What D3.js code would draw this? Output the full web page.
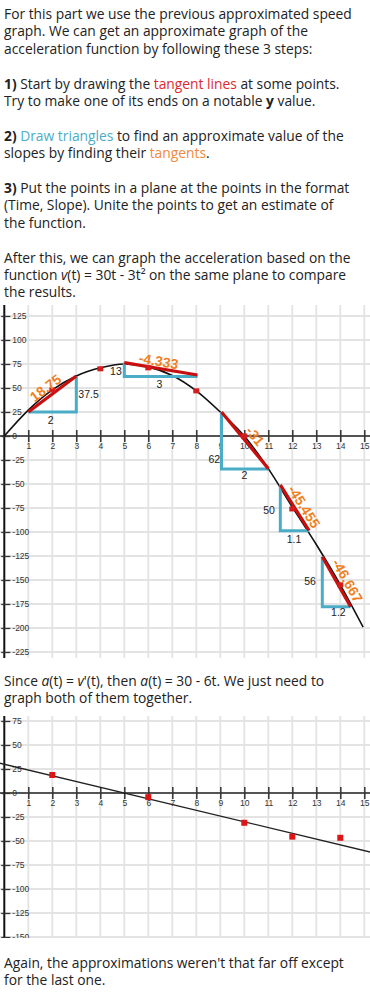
<!DOCTYPE html>
<html><head><meta charset="utf-8">
<script src="https://cdn.jsdelivr.net/npm/d3@7"></script>
<style>body{margin:0;background:#fff;} svg{display:block;}</style>
</head><body>
<svg id="c" width="370" height="1000"></svg>
<script>
// ---------- DATA ----------
const xTicks = [1,2,3,4,5,6,7,8,9,10,11,12,13,14,15];
const xTickLabels = ["1","2","3","4","5","6","7","8","9","10","11","12","13","14","15"];
const y1Ticks = [125,100,75,50,25,0,-25,-50,-75,-100,-125,-150,-175,-200,-225];
const y1TickLabels = ["125","100","75","50","25","0","-25","-50","-75","-100","-125","-150","-175","-200","-225"];
const y2Ticks = [75,50,25,0,-25,-50,-75,-100,-125,-150];
const y2TickLabels = ["75","50","25","0","-25","-50","-75","-100","-125","-150"];

// approximated speed curve
const speedT = [0, 1, 2, 3, 4, 5, 6, 7, 8, 9, 10, 11, 12, 13, 14, 14.95];
const speedV = [0, 27, 48, 62.5, 71, 75, 72, 63, 47, 25, 0, -34, -74, -113, -155, -199];
const speedMarkT = [2, 4, 6, 8, 10, 12, 14];
const speedMarkV = [48, 70, 71, 47, 0, -76, -155];

// tangent lines (red)
const tanStartT = [1, 5, 9.05, 11.5, 13.25];
const tanStartV = [25, 76.5, 25, -51, -125.7];
const tanEndT = [3, 8.05, 11, 12.7, 14.43];
const tanEndV = [62.5, 63.5, -34, -98.6, -177.8];

// triangles (blue): A -> corner -> B
const triAT = [1, 5, 9.05, 11.5, 13.25];
const triAV = [25, 76.5, 25, -51, -125.7];
const triCT = [3, 5, 9.05, 11.5, 13.25];
const triCV = [25, 62, -34.4, -98.6, -177.8];
const triBT = [3, 8.05, 11, 12.7, 14.43];
const triBV = [62.5, 62, -34.4, -98.6, -177.8];

// slope labels
const slopeText = ["18.75", "-4.333", "-31", "-45.455", "-46.667"];
const slopeLabT = [1.72, 6.43, 10.45, 12.49, 14.3];
const slopeLabV = [50, 78, 0, -73.6, -150.7];

// triangle side labels
const sideText = ["2", "37.5", "13", "3", "62", "2", "50", "1.1", "56", "1.2"];
const sideT = [1.93, 3.51, 4.65, 6.46, 8.75, 10, 11.03, 12.07, 12.74, 13.92];
const sideV = [16, 43.5, 67, 54, -24.3, -40.6, -77, -107.6, -151.8, -184];

// second chart
const accelPointT = [2, 6, 10, 12, 14];
const accelPointV = [18.75, -4.333, -31, -45.455, -46.667];
const accelLineT = [-0.2, 15.3];
const accelLineV = [31.2, -61.8];

// text
const para1 = [
 [["For this part we use the previous approximated speed",""]],
 [["graph. We can get an approximate graph of the",""]],
 [["acceleration function by following these 3 steps:",""]],
 [],
 [["1)","B"],[" Start by drawing the ",""],["tangent lines","r"],[" at some points.",""]],
 [["Try to make one of its ends on a notable ",""],["y","B"],[" value.",""]],
 [],
 [["2)","B"],[" ",""],["Draw triangles","b"],[" to find an approximate value of the",""]],
 [["slopes by finding their ",""],["tangents","o"],[".",""]],
 [],
 [["3)","B"],[" Put the points in a plane at the points in the format",""]],
 [["(Time, Slope). Unite the points to get an estimate of",""]],
 [["the function.",""]],
 [],
 [["After this, we can graph the acceleration based on the",""]],
 [["function ",""],["v","i"],["(t) = 30t - 3t\u00B2 on the same plane to compare",""]],
 [["the results.",""]]
];
const para2 = [
 [["Since ",""],["a","i"],["(t) = ",""],["v","i"],["'(t), then ",""],["a","i"],["(t) = 30 - 6t. We just need to",""]],
 [["graph both of them together.",""]]
];
const para3 = [
 [["Again, the approximations weren't that far off except",""]],
 [["for the last one.",""]]
];

// ---------- DRAW ----------
const svg = d3.select("#c");
const W = 370;
const bodyFont = "'Open Sans', sans-serif";
const numFont = "'Liberation Sans', Arial, sans-serif";
const colors = {r:"#dc2a2f", b:"#4bacc6", o:"#f08a3c"};

const allTextNodes = [];
function drawPara(lines, y0, lh) {
  const g = svg.append("g");
  lines.forEach((segs, i) => {
    if (!segs.length) return;
    const t = g.append("text").attr("x", 4).attr("y", y0 + i*lh)
      .attr("font-family", bodyFont).attr("fill", "#222");
    segs.forEach(([s, st]) => {
      const ts = t.append("tspan").text(s);
      if (st === "B") ts.attr("font-weight", "bold");
      if (st === "i") ts.attr("font-style", "italic");
      if (colors[st]) ts.attr("fill", colors[st]);
    });
    allTextNodes.push(t);
  });
}
drawPara(para1, 19, 17.4);
drawPara(para2, 685.7, 17.4);
drawPara(para3, 967.7, 17.4);
// fit font size to the width of the first line
allTextNodes.forEach(t => t.attr("font-size", 13));
const w0 = allTextNodes[0].node().getComputedTextLength();
const fs = 13 * 348 / w0;
allTextNodes.forEach(t => t.attr("font-size", fs.toFixed(2)));

const x = d3.scaleLinear().domain([0, 15]).range([4.3, 364.3]);

function makeChart(id, top, bottom, y, yTicks, yLabels) {
  const clip = svg.append("clipPath").attr("id", id)
    .append("rect").attr("x", 0).attr("y", top).attr("width", W).attr("height", bottom - top);
  const g = svg.append("g").attr("clip-path", `url(#${id})`);
  // grid
  g.append("g").selectAll("line").data(xTicks).join("line")
    .attr("x1", d => x(d)).attr("x2", d => x(d)).attr("y1", top).attr("y2", bottom)
    .attr("stroke", "#e3e3e3").attr("stroke-width", 1.8);
  g.append("g").selectAll("line").data(yTicks.filter(d => d !== 0)).join("line")
    .attr("x1", 0).attr("x2", W).attr("y1", d => y(d)).attr("y2", d => y(d))
    .attr("stroke", "#e3e3e3").attr("stroke-width", 1.8);
  // x axis
  g.append("line").attr("x1", 0).attr("x2", W).attr("y1", y(0)).attr("y2", y(0))
    .attr("stroke", "#555").attr("stroke-width", 2);
  const xa = g.append("g").attr("transform", `translate(0,${y(0)})`)
    .call(d3.axisBottom(x).tickValues(xTicks).tickFormat((d, i) => xTickLabels[i]).tickSize(6).tickSizeOuter(0));
  xa.select(".domain").remove();
  xa.selectAll(".tick line").attr("y1", -6).attr("y2", 6).attr("stroke", "#333").attr("stroke-width", 1.5);
  xa.selectAll(".tick text").attr("y", 12.8).attr("dy", null)
    .attr("font-family", numFont).attr("font-size", 8.5).attr("fill", "#333");
  // y axis
  g.append("line").attr("x1", x(0)).attr("x2", x(0)).attr("y1", top).attr("y2", bottom)
    .attr("stroke", "#111").attr("stroke-width", 2);
  const ya = g.append("g").attr("transform", `translate(${x(0)},0)`)
    .call(d3.axisRight(y).tickValues(yTicks).tickFormat((d, i) => yLabels[i]).tickSize(6).tickSizeOuter(0));
  ya.select(".domain").remove();
  ya.selectAll(".tick line").attr("x1", -3).attr("x2", 6).attr("stroke", "#333").attr("stroke-width", 1.3);
  ya.selectAll(".tick text").attr("x", 8).attr("dy", "0.34em")
    .attr("font-family", numFont).attr("font-size", 8.5).attr("fill", "#333");
  return g;
}

// ----- chart 1 -----
const y1 = d3.scaleLinear().domain([0, 125]).range([436, 316]);
const g1 = makeChart("clip1", 305, 658, y1, y1Ticks, y1TickLabels);
const speedPts = speedT.map((t, i) => [t, speedV[i]]);
g1.append("path").datum(speedPts)
  .attr("d", d3.line().x(d => x(d[0])).y(d => y1(d[1])).curve(d3.curveMonotoneX))
  .attr("fill", "none").attr("stroke", "#111").attr("stroke-width", 1.6);
// blue triangles
tanStartT.forEach((_, i) => {
  const pts = [[triAT[i], triAV[i]], [triCT[i], triCV[i]], [triBT[i], triBV[i]]];
  g1.append("path").datum(pts)
    .attr("d", d3.line().x(d => x(d[0])).y(d => y1(d[1])))
    .attr("fill", "none").attr("stroke", "#4bacc6").attr("stroke-width", 3);
});
// red tangents
g1.append("g").selectAll("line").data(tanStartT).join("line")
  .attr("x1", (d, i) => x(tanStartT[i])).attr("y1", (d, i) => y1(tanStartV[i]))
  .attr("x2", (d, i) => x(tanEndT[i])).attr("y2", (d, i) => y1(tanEndV[i]))
  .attr("stroke", "#c80f0f").attr("stroke-width", 3.2);
// markers
g1.append("g").selectAll("rect").data(speedMarkT).join("rect")
  .attr("x", d => x(d) - 3).attr("y", (d, i) => y1(speedMarkV[i]) - 2.5)
  .attr("width", 6).attr("height", 5).attr("fill", "#d41c1c");
// side labels
g1.append("g").selectAll("text").data(sideText).join("text")
  .attr("x", (d, i) => x(sideT[i])).attr("y", (d, i) => y1(sideV[i]))
  .attr("dy", "0.35em").attr("text-anchor", "middle")
  .attr("font-family", numFont).attr("font-size", 10.5).attr("fill", "#222")
  .text(d => d);
// slope labels
g1.append("g").selectAll("text").data(slopeText).join("text")
  .attr("transform", (d, i) => {
    const ang = Math.atan2(y1(tanEndV[i]) - y1(tanStartV[i]), x(tanEndT[i]) - x(tanStartT[i])) * 180 / Math.PI;
    return `translate(${x(slopeLabT[i])},${y1(slopeLabV[i])}) rotate(${ang})`;
  })
  .attr("dy", "0.35em").attr("text-anchor", "middle")
  .attr("font-family", numFont).attr("font-size", 14).attr("font-weight", "bold")
  .attr("fill", "#f07f22")
  .text(d => d);

// ----- chart 2 -----
const y2 = d3.scaleLinear().domain([0, 75]).range([793, 721]);
const g2 = makeChart("clip2", 716, 938, y2, y2Ticks, y2TickLabels);
g2.append("line")
  .attr("x1", x(accelLineT[0])).attr("y1", y2(accelLineV[0]))
  .attr("x2", x(accelLineT[1])).attr("y2", y2(accelLineV[1]))
  .attr("stroke", "#222").attr("stroke-width", 1.4);
g2.append("g").selectAll("rect").data(accelPointT).join("rect")
  .attr("x", d => x(d) - 3).attr("y", (d, i) => y2(accelPointV[i]) - 3)
  .attr("width", 6).attr("height", 6).attr("fill", "#dd1515");
</script>
</body></html>
